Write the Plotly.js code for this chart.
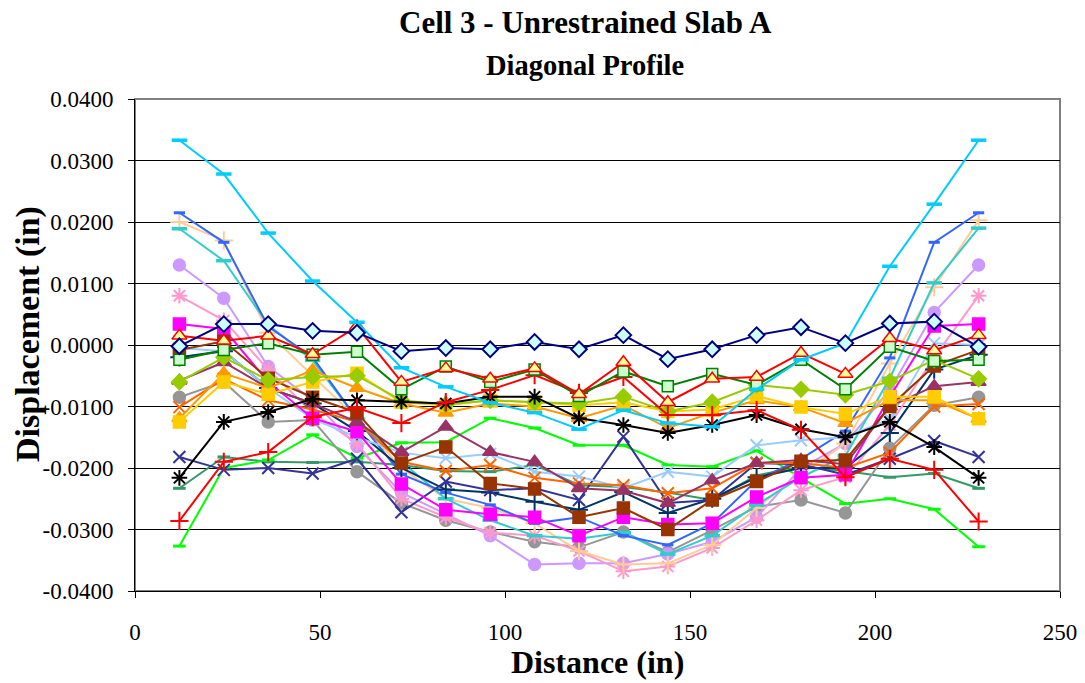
<!DOCTYPE html>
<html>
<head>
<meta charset="utf-8">
<script src="https://cdn.plot.ly/plotly-3.0.1.min.js"></script>
<style>html,body{margin:0;padding:0;background:#fff;}#chart{width:1085px;height:683px;}</style>
</head>
<body>
<div id="chart"></div>
<script>
// Distance along diagonal (in)
const distance = [12, 24, 36, 48, 60, 72, 84, 96, 108, 120, 132, 144, 156, 168, 180, 192, 204, 216, 228];

// Axis tick values and labels
const yTickValues = [0.04, 0.03, 0.02, 0.01, 0, -0.01, -0.02, -0.03, -0.04];
const yTickLabels = ['0.0400', '0.0300', '0.0200', '0.0100', '0.0000', '-0.0100', '-0.0200', '-0.0300', '-0.0400'];
const xTickValues = [0, 50, 100, 150, 200, 250];

// Chart texts
const titleLines = ['Cell 3 - Unrestrained Slab A', 'Diagonal Profile'];
const xTitle = 'Distance (in)';
const yTitle = 'Displacement (in)';

// Displacement series (in)
const seaGreenDash   = [-0.0233, -0.0182, -0.0190, -0.0191, -0.0190, -0.0195, -0.0205, -0.0206, -0.0195, -0.0228, -0.0231, -0.0240, -0.0252, -0.0212, -0.0198, -0.0205, -0.0215, -0.0209, -0.0233];
const limeDash       = [-0.0327, -0.0200, -0.0187, -0.0146, -0.0184, -0.0159, -0.0158, -0.0119, -0.0135, -0.0163, -0.0163, -0.0195, -0.0198, -0.0172, -0.0216, -0.0258, -0.0250, -0.0267, -0.0328];
const grayCircle     = [-0.0085, -0.0060, -0.0125, -0.0122, -0.0206, -0.0257, -0.0285, -0.0304, -0.0320, -0.0329, -0.0304, -0.0337, -0.0301, -0.0263, -0.0252, -0.0273, -0.0168, -0.0098, -0.0085];
const lilacCircle    = [0.0130, 0.0076, -0.0035, -0.0090, -0.0165, -0.0240, -0.0275, -0.0310, -0.0357, -0.0355, -0.0355, -0.0340, -0.0320, -0.0280, -0.0200, -0.0160, -0.0073, 0.0053, 0.0130];
const pinkStar       = [0.0080, 0.0040, -0.0040, -0.0110, -0.0160, -0.0250, -0.0280, -0.0305, -0.0310, -0.0335, -0.0368, -0.0360, -0.0330, -0.0285, -0.0236, -0.0215, -0.0130, -0.0020, 0.0080];
const peachPlus      = [0.0200, 0.0170, 0.0020, -0.0050, -0.0120, -0.0200, -0.0250, -0.0265, -0.0290, -0.0335, -0.0357, -0.0355, -0.0325, -0.0265, -0.0210, -0.0160, -0.0030, 0.0094, 0.0203];
const turquoiseDash  = [0.0189, 0.0137, 0.0033, -0.0025, -0.0120, -0.0190, -0.0250, -0.0285, -0.0310, -0.0315, -0.0305, -0.0340, -0.0310, -0.0260, -0.0215, -0.0180, -0.0054, 0.0101, 0.0190];
const royalBlueDash  = [0.0215, 0.0167, 0.0030, -0.0020, -0.0120, -0.0210, -0.0240, -0.0260, -0.0290, -0.0280, -0.0310, -0.0325, -0.0290, -0.0220, -0.0185, -0.0140, -0.0021, 0.0167, 0.0215];
const darkTealPlus   = [-0.0020, -0.0010, -0.0070, -0.0095, -0.0140, -0.0200, -0.0235, -0.0240, -0.0255, -0.0268, -0.0239, -0.0273, -0.0250, -0.0215, -0.0200, -0.0200, -0.0143, -0.0040, -0.0016];
const slateBlueX     = [-0.0182, -0.0203, -0.0200, -0.0209, -0.0185, -0.0272, -0.0222, -0.0236, -0.0233, -0.0252, -0.0149, -0.0257, -0.0252, -0.0192, -0.0194, -0.0211, -0.0185, -0.0156, -0.0182];
const lightBlueX     = [-0.0005, -0.0010, -0.0070, -0.0120, -0.0150, -0.0175, -0.0184, -0.0177, -0.0206, -0.0214, -0.0233, -0.0206, -0.0214, -0.0163, -0.0155, -0.0150, -0.0120, 0.0003, 0.0000];
const orangeRedX     = [-0.0101, -0.0055, -0.0090, -0.0105, -0.0125, -0.0190, -0.0205, -0.0195, -0.0216, -0.0225, -0.0228, -0.0241, -0.0233, -0.0192, -0.0192, -0.0200, -0.0175, -0.0100, -0.0096];
const magentaSquare  = [0.0034, 0.0026, -0.0060, -0.0119, -0.0141, -0.0226, -0.0268, -0.0275, -0.0280, -0.0310, -0.0280, -0.0292, -0.0290, -0.0247, -0.0216, -0.0211, -0.0084, 0.0031, 0.0034];
const plumTriangle   = [-0.0058, -0.0028, -0.0070, -0.0095, -0.0125, -0.0174, -0.0133, -0.0174, -0.0190, -0.0233, -0.0237, -0.0257, -0.0220, -0.0192, -0.0187, -0.0194, -0.0100, -0.0067, -0.0060];
const brownSquare    = [-0.0008, 0.0006, -0.0054, -0.0085, -0.0110, -0.0192, -0.0166, -0.0225, -0.0234, -0.0280, -0.0265, -0.0300, -0.0252, -0.0222, -0.0189, -0.0187, -0.0100, -0.0034, -0.0008];
const orangeTriangle = [-0.0119, -0.0046, -0.0070, -0.0041, -0.0070, -0.0095, -0.0110, -0.0095, -0.0100, -0.0119, -0.0098, -0.0135, -0.0110, -0.0090, -0.0101, -0.0127, -0.0090, -0.0090, -0.0120];
const goldSquare     = [-0.0125, -0.0060, -0.0080, -0.0060, -0.0046, -0.0093, -0.0098, -0.0090, -0.0093, -0.0098, -0.0093, -0.0108, -0.0105, -0.0083, -0.0101, -0.0112, -0.0084, -0.0084, -0.0120];
const yellowGreenDiamond = [-0.0060, -0.0020, -0.0057, -0.0052, -0.0050, -0.0090, -0.0097, -0.0090, -0.0093, -0.0095, -0.0084, -0.0108, -0.0093, -0.0065, -0.0072, -0.0081, -0.0059, -0.0024, -0.0055];
const blackStar      = [-0.0216, -0.0125, -0.0109, -0.0088, -0.0090, -0.0092, -0.0095, -0.0084, -0.0084, -0.0119, -0.0130, -0.0143, -0.0130, -0.0114, -0.0137, -0.0150, -0.0125, -0.0166, -0.0216];
const redPlus        = [-0.0286, -0.0190, -0.0174, -0.0117, -0.0102, -0.0127, -0.0093, -0.0073, -0.0049, -0.0078, -0.0052, -0.0114, -0.0114, -0.0106, -0.0138, -0.0215, -0.0185, -0.0203, -0.0287];
const greenSquare    = [-0.0024, -0.0008, 0.0003, -0.0016, -0.0011, -0.0072, -0.0035, -0.0060, -0.0040, -0.0083, -0.0043, -0.0067, -0.0047, -0.0065, -0.0024, -0.0072, -0.0003, -0.0026, -0.0024];
const redTriangle    = [0.0015, 0.0007, 0.0015, -0.0015, 0.0030, -0.0060, -0.0038, -0.0055, -0.0038, -0.0080, -0.0028, -0.0093, -0.0055, -0.0052, -0.0013, -0.0047, 0.0011, -0.0009, 0.0016];
const deepSkyDash    = [0.0333, 0.0278, 0.0182, 0.0104, 0.0037, -0.0037, -0.0068, -0.0094, -0.0110, -0.0137, -0.0106, -0.0127, -0.0133, -0.0072, -0.0024, 0.0003, 0.0128, 0.0229, 0.0333];
const navyDiamond    = [-0.0002, 0.0034, 0.0034, 0.0023, 0.0020, -0.0010, -0.0005, -0.0007, 0.0005, -0.0007, 0.0016, -0.0023, -0.0007, 0.0016, 0.0029, 0.0003, 0.0035, 0.0038, -0.0003];

function mk(y, color, symbol, size, fill, lineW, mlw) {
  const thin = /thin|asterisk|line-ew/.test(symbol);
  return {
    x: distance, y: y, type: 'scatter', mode: 'lines+markers',
    line: {color: color, width: lineW || 2},
    marker: {
      symbol: symbol, size: size,
      color: thin ? color : (fill || color),
      line: {color: color, width: mlw != null ? mlw : (thin ? 2 : 1.5)}
    },
    hoverinfo: 'x+y', showlegend: false
  };
}

const traces = [
  mk(seaGreenDash, '#339966', 'line-ew', 9, null, 2, 3),
  mk(limeDash, '#00FF00', 'line-ew', 9, null, 2, 3),
  mk(grayCircle, '#969696', 'circle', 12),
  mk(lilacCircle, '#CC99FF', 'circle', 12),
  mk(pinkStar, '#FF99CC', 'asterisk', 13),
  mk(peachPlus, '#FFCC99', 'cross-thin', 13),
  mk(turquoiseDash, '#33CCCC', 'line-ew', 11, null, 2, 3.5),
  mk(royalBlueDash, '#3366FF', 'line-ew', 8, null, 2, 3),
  mk(darkTealPlus, '#003366', 'cross-thin', 13),
  mk(slateBlueX, '#333399', 'x-thin', 12),
  mk(lightBlueX, '#99CCFF', 'x-thin', 12),
  mk(orangeRedX, '#FF6600', 'x-thin', 12),
  mk(magentaSquare, '#FF00FF', 'square', 12),
  mk(plumTriangle, '#993366', 'triangle-up', 13),
  mk(brownSquare, '#993300', 'square', 12),
  mk(orangeTriangle, '#FF9900', 'triangle-up', 13),
  mk(goldSquare, '#FFCC00', 'square', 12),
  mk(yellowGreenDiamond, '#99CC00', 'diamond', 12),
  mk(blackStar, '#000000', 'asterisk', 13),
  mk(redPlus, '#FF0000', 'cross-thin', 13),
  mk(greenSquare, '#008000', 'square', 11, '#CCFFCC', 2, 1.5),
  mk(redTriangle, '#FF0000', 'triangle-up', 13, '#FFFF99', 2, 1.5),
  mk(deepSkyDash, '#00CCFF', 'line-ew', 11, null, 2, 3.5),
  mk(navyDiamond, '#000080', 'diamond', 12, '#CCFFFF', 2, 2)
];

const serif = 'Liberation Serif, Times New Roman, serif';
const layout = {
  width: 1085, height: 683,
  margin: {l: 135, r: 25, t: 99, b: 92},
  paper_bgcolor: '#ffffff', plot_bgcolor: '#ffffff',
  xaxis: {
    range: [0, 250], tickvals: xTickValues,
    showgrid: false, zeroline: false,
    showline: true, linecolor: '#000', linewidth: 1,
    ticks: 'outside', ticklen: 6, tickcolor: '#000',
    ticklabelstandoff: 14,
    tickfont: {family: serif, size: 23, color: '#000'}
  },
  yaxis: {
    range: [-0.04, 0.04], tickvals: yTickValues, ticktext: yTickLabels,
    showgrid: true, gridcolor: '#000', gridwidth: 1,
    zeroline: false,
    showline: true, linecolor: '#000', linewidth: 1,
    ticks: 'outside', ticklen: 6, tickcolor: '#000',
    ticklabelstandoff: 10,
    tickfont: {family: serif, size: 23, color: '#000'}
  },
  annotations: [
    {text: '<b>' + titleLines[0] + '</b>', xref: 'paper', yref: 'paper', x: 0.4865, y: (591 - 23) / 492,
     xanchor: 'center', yanchor: 'middle', showarrow: false, font: {family: serif, size: 31, color: '#000'}},
    {text: '<b>' + titleLines[1] + '</b>', xref: 'paper', yref: 'paper', x: 0.4865, y: (591 - 66) / 492,
     xanchor: 'center', yanchor: 'middle', showarrow: false, font: {family: serif, size: 28.5, color: '#000'}},
    {text: '<b>' + xTitle + '</b>', xref: 'paper', yref: 'paper', x: 0.5, y: (591 - 662) / 492,
     xanchor: 'center', yanchor: 'middle', showarrow: false, font: {family: serif, size: 32, color: '#000'}},
    {text: '<b>' + yTitle + '</b>', xref: 'paper', yref: 'paper', x: (28 - 135) / 925, y: (591 - 334) / 492,
     xanchor: 'center', yanchor: 'middle', textangle: -90, showarrow: false, font: {family: serif, size: 34, color: '#000'}}
  ],
  shapes: [{type: 'rect', xref: 'paper', yref: 'paper', x0: 0, x1: 1, y0: 0, y1: 1,
            line: {color: '#808080', width: 2}, fillcolor: 'rgba(0,0,0,0)', layer: 'below'}]
};

Plotly.newPlot('chart', traces, layout, {displayModeBar: false, staticPlot: true});
</script>
</body>
</html>
